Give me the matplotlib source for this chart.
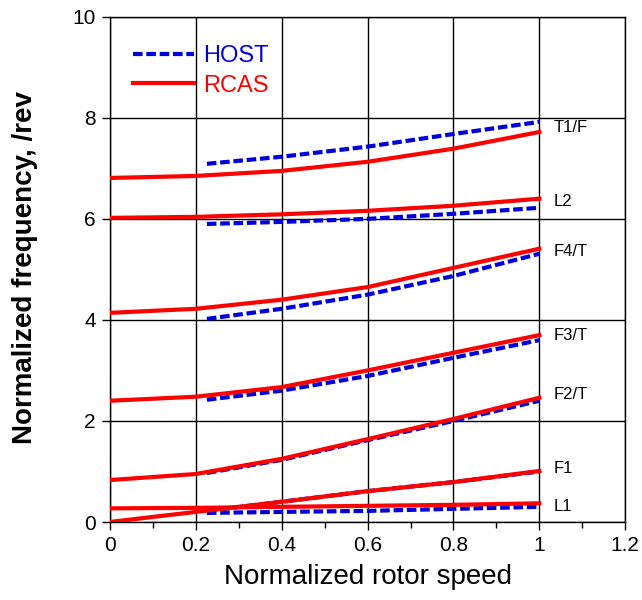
import numpy as np
import matplotlib
matplotlib.use("Agg")
import matplotlib.pyplot as plt
from matplotlib.ticker import MultipleLocator

plt.rcParams["font.family"] = ["Liberation Sans", "DejaVu Sans"]

# rotor speed stations
speed_rcas = [0.0, 0.2, 0.4, 0.6, 0.8, 1.0]
speed_host = [0.226, 0.4, 0.6, 0.8, 1.0]

# mode names (label at right end of each curve)
modes = ["L1", "F1", "F2/T", "F3/T", "F4/T", "L2", "T1/F"]

# RCAS frequencies, /rev
rcas = {
    "L1":   [0.27, 0.28, 0.30, 0.32, 0.34, 0.37],
    "F1":   [0.00, 0.20, 0.40, 0.61, 0.79, 1.01],
    "F2/T": [0.83, 0.95, 1.25, 1.64, 2.04, 2.46],
    "F3/T": [2.40, 2.48, 2.67, 3.00, 3.35, 3.70],
    "F4/T": [4.14, 4.22, 4.40, 4.65, 5.03, 5.41],
    "L2":   [6.02, 6.04, 6.09, 6.16, 6.26, 6.40],
    "T1/F": [6.81, 6.85, 6.95, 7.13, 7.39, 7.72],
}

# HOST frequencies, /rev
host = {
    "L1":   [0.18, 0.20, 0.22, 0.26, 0.30],
    "F1":   [0.22, 0.40, 0.61, 0.79, 1.00],
    "F2/T": [0.97, 1.23, 1.62, 2.00, 2.40],
    "F3/T": [2.42, 2.60, 2.89, 3.25, 3.60],
    "F4/T": [4.02, 4.22, 4.50, 4.87, 5.31],
    "L2":   [5.90, 5.94, 6.00, 6.10, 6.22],
    "T1/F": [7.09, 7.23, 7.43, 7.68, 7.92],
}

# vertical placement of the mode labels
label_y = [0.30, 1.05, 2.53, 3.70, 5.35, 6.34, 7.80]

fig = plt.figure(figsize=(6.42, 6.0), dpi=100)
ax = fig.add_axes([0.171, 0.13, 0.803, 0.842])

for i, m in enumerate(modes):
    ax.plot(speed_host, host[m], color="#0000dd", lw=3.0, ls=(0, (2.3, 0.9)),
            zorder=3, label="HOST" if i == 0 else None)
    ax.plot(speed_rcas, rcas[m], color="#ff0000", lw=3.0, zorder=4,
            label="RCAS" if i == 0 else None)
    ax.text(1.033, label_y[i], m, fontsize=12, va="center", ha="left")

ax.set_xlim(0, 1.2)
ax.set_ylim(0, 10)
ax.xaxis.set_minor_locator(MultipleLocator(0.1))
ax.set_xticks(np.arange(0, 1.21, 0.2))
ax.set_xticklabels(["0", "0.2", "0.4", "0.6", "0.8", "1", "1.2"])
ax.set_yticks(np.arange(0, 10.1, 2))
ax.set_yticklabels(["0", "2", "4", "6", "8", "10"])
ax.tick_params(which="major", direction="out", length=6, width=1.0,
               labelsize=15, colors="black", pad=4)
ax.tick_params(which="minor", direction="out", length=4, width=1.0)
ax.grid(True, which="major", color="black", lw=1.0)
for s in ax.spines.values():
    s.set_linewidth(1.0)

ax.set_xlabel("Normalized rotor speed", fontsize=20)
ax.xaxis.set_label_coords(0.5, -0.083)
ax.set_ylabel("Normalized frequency, /rev", fontsize=20, fontweight="bold")
ax.yaxis.set_label_coords(-0.14, 0.503)

leg = ax.legend(loc="upper left", bbox_to_anchor=(0.045, 0.944), frameon=False,
                fontsize=17, handlelength=2.6, handletextpad=0.38,
                labelspacing=0.32, borderaxespad=0, borderpad=0)
for t, c in zip(leg.get_texts(), ["#0000dd", "#ff0000"]):
    t.set_color(c)

fig.savefig("out.png", dpi=100)
